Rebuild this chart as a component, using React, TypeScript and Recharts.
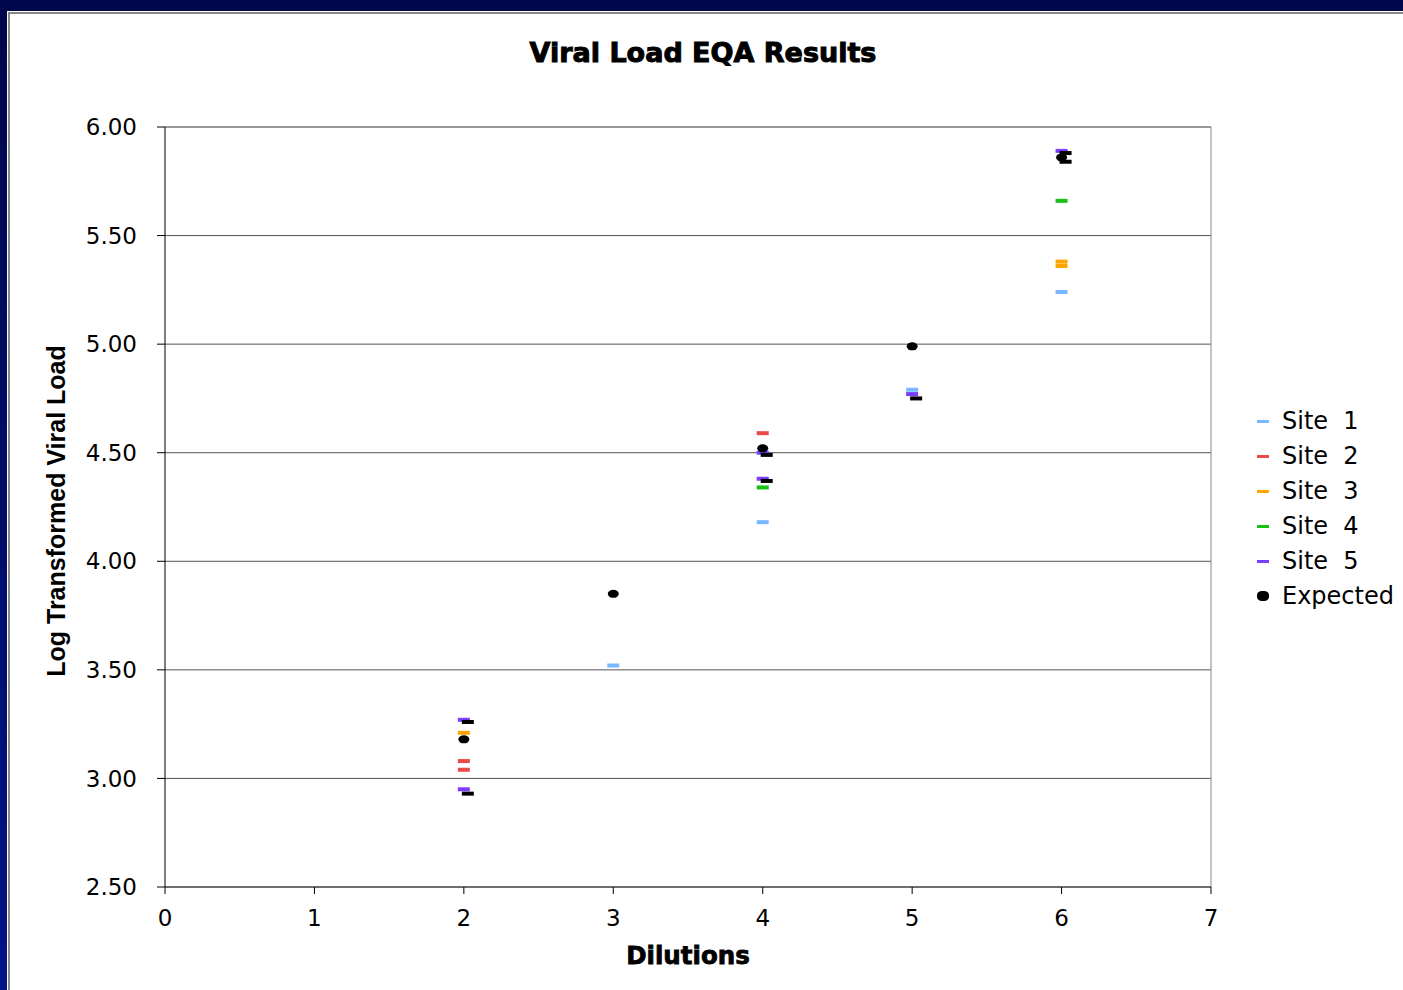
import {
  ScatterChart,
  Scatter,
  XAxis,
  YAxis,
  CartesianGrid,
  ReferenceLine,
} from "recharts";

type Pt = { x: number; y: number };

const site1: Pt[] = [
  { x: 3, y: 3.52 },
  { x: 4, y: 4.18 },
  { x: 5, y: 4.79 },
  { x: 6, y: 5.24 },
];
const site2: Pt[] = [
  { x: 2, y: 3.08 },
  { x: 2, y: 3.04 },
  { x: 4, y: 4.59 },
];
const site3: Pt[] = [
  { x: 2, y: 3.21 },
  { x: 6, y: 5.38 },
  { x: 6, y: 5.36 },
];
const site4: Pt[] = [
  { x: 4, y: 4.34 },
  { x: 6, y: 5.66 },
];
const site5: Pt[] = [
  { x: 2, y: 3.27 },
  { x: 2, y: 2.95 },
  { x: 4, y: 4.5 },
  { x: 4, y: 4.38 },
  { x: 5, y: 4.77 },
  { x: 6, y: 5.89 },
];
const expected: Pt[] = [
  { x: 2, y: 3.18 },
  { x: 3, y: 3.85 },
  { x: 4, y: 4.52 },
  { x: 5, y: 4.99 },
  { x: 6, y: 5.86 },
];
// black dashes drawn just right of the expected value
const limits: Pt[] = [
  { x: 2, y: 3.26 },
  { x: 2, y: 2.93 },
  { x: 4, y: 4.49 },
  { x: 4, y: 4.37 },
  { x: 5, y: 4.75 },
  { x: 6, y: 5.88 },
  { x: 6, y: 5.84 },
];

const xTicks = [0, 1, 2, 3, 4, 5, 6, 7];
const yTicks = [2.5, 3, 3.5, 4, 4.5, 5, 5.5, 6];

const sites = [
  { name: "Site  1", data: site1, color: "#78b8ff" },
  { name: "Site  2", data: site2, color: "#e94a4a" },
  { name: "Site  3", data: site3, color: "#ffa500" },
  { name: "Site  4", data: site4, color: "#17bf17" },
  { name: "Site  5", data: site5, color: "#7b3dff" },
];

const FONT = "'DejaVu Sans', Verdana, sans-serif";

const dash = (color: string, shift = 0) => (p: any) =>
  <rect x={p.cx - 6 + shift} y={p.cy - 2} width={12} height={4} fill={color} />;

const dot = (p: any) => <ellipse cx={p.cx} cy={p.cy} rx={5.5} ry={4} fill="#000" />;

const tickStyle = { fontFamily: FONT, fontSize: 23, fill: "#000" };

export default function App() {
  return (
    <div
      style={{
        position: "absolute",
        left: 0,
        top: 0,
        width: 1403,
        height: 990,
        overflow: "hidden",
        background: "linear-gradient(to bottom, #00074a, #001585)",
      }}
    >
      <div
        style={{
          position: "absolute",
          left: 7,
          top: 11,
          width: 1400,
          height: 990,
          background: "#fff",
          borderTop: "1px solid #fff",
          borderLeft: "1px solid #fff",
        }}
      >
        <div
          style={{
            width: "100%",
            height: "100%",
            borderTop: "2px solid #888",
            borderLeft: "2px solid #888",
          }}
        />
      </div>

      <div style={{ position: "absolute", left: 0, top: 0 }}>
        <ScatterChart
          width={1403}
          height={990}
          margin={{ top: 127, right: 192, left: 0, bottom: 0 }}
        >
          <CartesianGrid vertical={false} stroke="#555" />
          <XAxis
            type="number"
            dataKey="x"
            domain={[0, 7]}
            ticks={xTicks}
            height={103}
            stroke="#333"
            tickSize={7}
            tickMargin={16}
            tick={tickStyle}
            tickLine={{ stroke: "#000" }}
          />
          <YAxis
            type="number"
            dataKey="y"
            domain={[2.5, 6]}
            ticks={yTicks}
            width={165}
            stroke="#000"
            tickSize={8}
            tickMargin={20}
            tick={tickStyle}
            tickFormatter={(v: number) => v.toFixed(2)}
          />
          <ReferenceLine x={7} stroke="#888" />
          <ReferenceLine y={6} stroke="#888" />
          {sites.map((s) => (
            <Scatter
              key={s.name}
              name={s.name}
              data={s.data}
              shape={dash(s.color)}
              isAnimationActive={false}
            />
          ))}
          <Scatter name="Expected" data={expected} shape={dot} isAnimationActive={false} />
          <Scatter name="Limits" data={limits} shape={dash("#000", 4)} isAnimationActive={false} />
        </ScatterChart>
      </div>

      <div
        style={{
          position: "absolute",
          left: 403,
          width: 600,
          top: 39,
          textAlign: "center",
          fontFamily: FONT,
          fontWeight: 900,
          fontSize: 27,
          lineHeight: "28px",
          color: "#000",
          WebkitTextStroke: "1px #000",
        }}
      >
        Viral Load EQA Results
      </div>

      <div
        style={{
          position: "absolute",
          left: 488,
          width: 400,
          top: 943,
          textAlign: "center",
          fontFamily: FONT,
          fontWeight: 700,
          fontSize: 24.5,
          lineHeight: "25px",
          color: "#000",
          WebkitTextStroke: "0.8px #000",
        }}
      >
        Dilutions
      </div>

      <div
        style={{
          position: "absolute",
          left: 56,
          top: 511,
          transform: "translate(-50%, -50%) rotate(-90deg)",
          whiteSpace: "nowrap",
          fontFamily: "'Liberation Sans', Arial, sans-serif",
          fontWeight: 700,
          fontSize: 25,
          lineHeight: "25px",
          color: "#000",
        }}
      >
        Log Transformed Viral Load
      </div>

      <div style={{ position: "absolute", left: 1257, top: 0 }}>
        {[...sites, { name: "Expected", color: "#000" }].map((s, i) => (
          <div
            key={s.name}
            style={{
              position: "absolute",
              left: 0,
              top: 421 + i * 35 - 14,
              height: 28,
              display: "flex",
              alignItems: "center",
              whiteSpace: "pre",
            }}
          >
            {s.name === "Expected" ? (
              <span
                style={{
                  display: "inline-block",
                  width: 12,
                  height: 10,
                  borderRadius: "40%",
                  background: "#000",
                }}
              />
            ) : (
              <span
                style={{ display: "inline-block", width: 12, height: 3, background: s.color }}
              />
            )}
            <span
              style={{
                marginLeft: 13,
                fontFamily: FONT,
                fontSize: 24,
                lineHeight: "28px",
                color: "#000",
              }}
            >
              {s.name}
            </span>
          </div>
        ))}
      </div>
    </div>
  );
}
